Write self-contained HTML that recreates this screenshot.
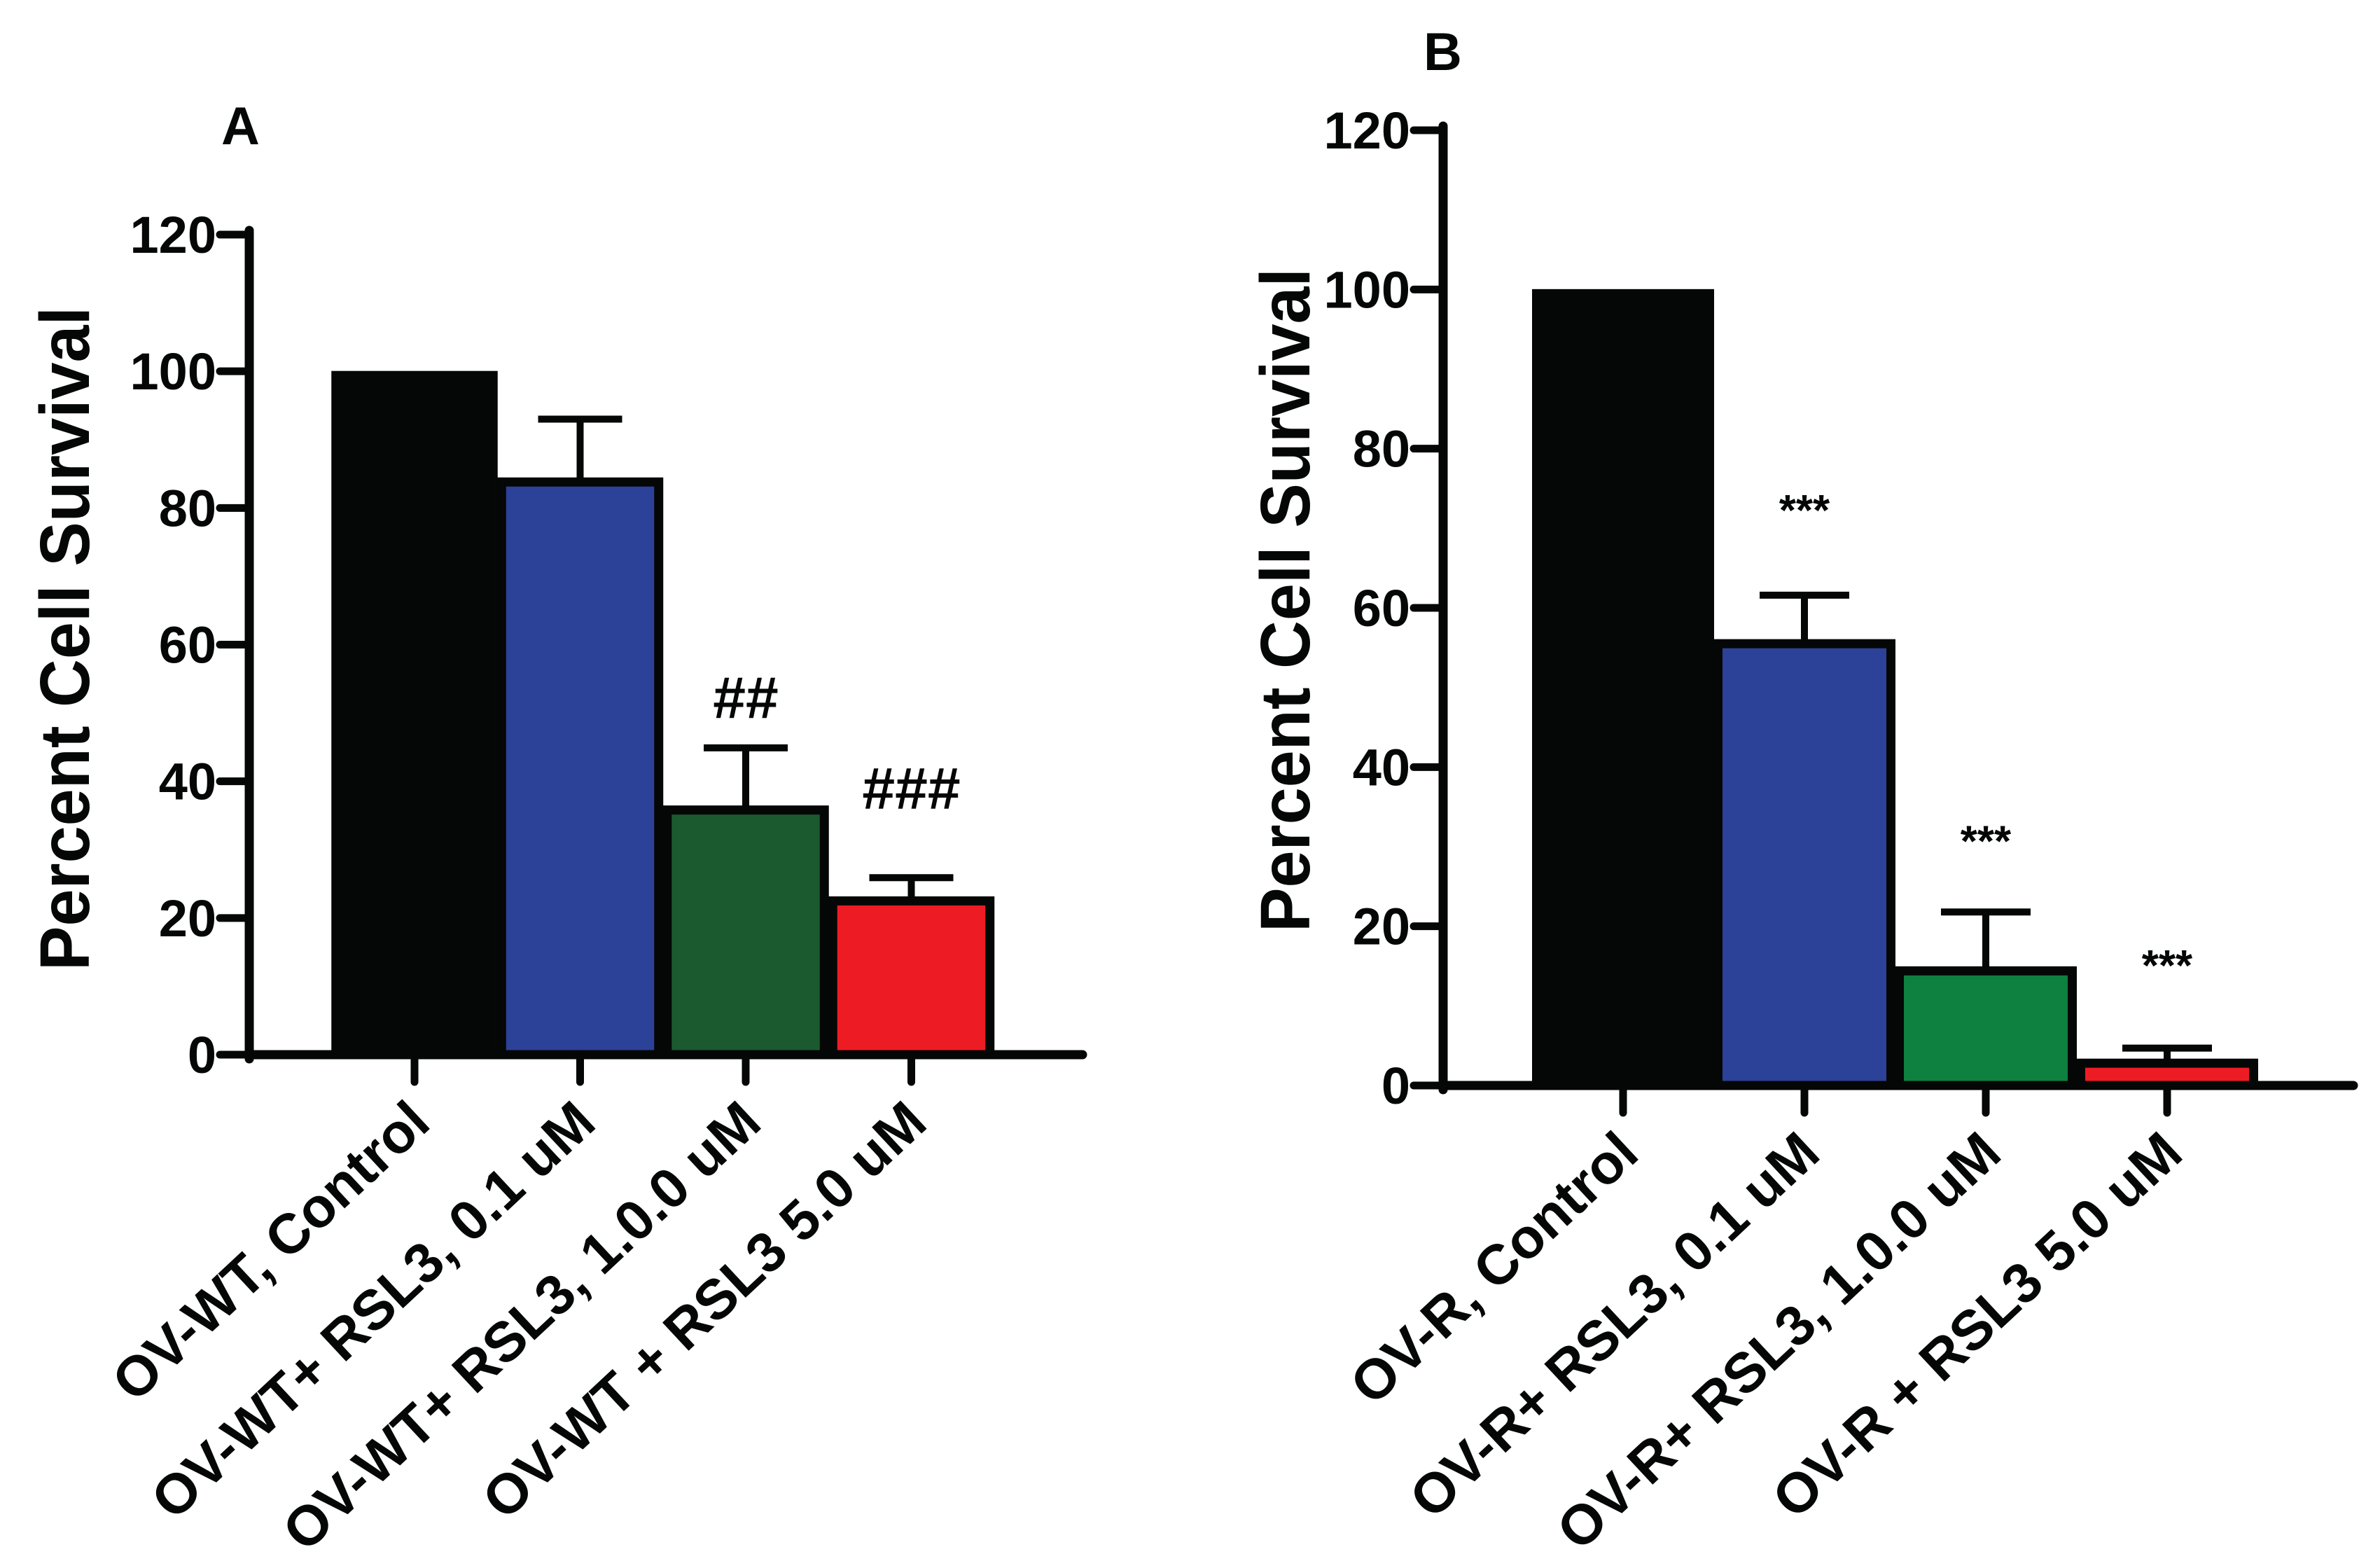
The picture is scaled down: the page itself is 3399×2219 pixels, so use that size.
<!DOCTYPE html>
<html><head><meta charset="utf-8"><style>
html,body{margin:0;padding:0;background:#fff;}
svg{display:block;font-family:"Liberation Sans",Arial,sans-serif;font-weight:bold;}
</style></head><body>
<svg id="chart" width="3399" height="2219" viewBox="0 0 3399 2219" xmlns="http://www.w3.org/2000/svg"></svg>
<script>
// Panel A data
const catsA = ["OV-WT, Control","OV-WT+ RSL3, 0.1 uM","OV-WT+ RSL3, 1.0.0 uM","OV-WT + RSL3 5.0 uM"];
const valsA = [100, 83.8, 35.8, 22.5];
const errA = [null, 93.0, 44.9, 25.9];
const annotA = ["", "", "##", "###"];
const annotYA = [0, 49.3, 49.3, 36.0];
// Panel B data
const catsB = ["OV-R, Control","OV-R+ RSL3, 0.1 uM","OV-R+ RSL3, 1.0.0 uM","OV-R + RSL3 5.0 uM"];
const valsB = [100, 55.5, 14.4, 2.8];
const errB = [null, 61.6, 21.8, 4.7];
const annotB = ["", "***", "***", "***"];
const annotYB = [0, 70.4, 28.8, 13.2];
const ticksY = [0, 20, 40, 60, 80, 100, 120];

const NS = "http://www.w3.org/2000/svg";
const svg = document.getElementById('chart');
function mk(tag, attrs, parent, text){
  const e = document.createElementNS(NS, tag);
  for (const k in attrs) e.setAttribute(k, attrs[k]);
  if (text !== undefined) e.textContent = text;
  (parent || svg).appendChild(e);
  return e;
}

function panel(cfg){
  const g = mk('g', {});
  
  
  const y = v => cfg.y0 - v * (cfg.y0 - cfg.y120) / 120;
  const x = i => cfg.x0 + i * cfg.step;
  const half = cfg.step / 2;
  cfg.vals.forEach((v, i) => {
    const top = i === 0 ? y(v) + 6 : y(v);
    const r = mk('rect', {x: x(i) - half + 6, y: top, width: cfg.step - 12, height: cfg.y0 - top,
      fill: cfg.colors[i], stroke: '#050706', 'stroke-width': 13}, g);
    
    
  });
  cfg.errs.forEach((e, i) => {
    if (e === null) return;
    const p = mk('path', {d: `M${x(i)} ${y(cfg.vals[i]) - 6} V${y(e)} M${x(i) - cfg.cap / 2} ${y(e)} H${x(i) + cfg.cap / 2}`,
      stroke: '#050706', 'stroke-width': 10, fill: 'none'}, g);
    
    
  });
  cfg.annot.forEach((a, i) => {
    if (!a) return;
    const t = mk('text', {x: x(i), y: y(cfg.annotY[i]), 'text-anchor': 'middle', 'font-size': cfg.annotSize, fill: '#050706'}, g, a);
    
    
  });
  const ya = mk('line', {x1: cfg.ax, y1: cfg.y120 - 6, x2: cfg.ax, y2: cfg.y0 + 6, stroke: '#050706', 'stroke-width': 13, 'stroke-linecap': 'round'}, g);
  
  
  const xa = mk('line', {x1: cfg.ax, y1: cfg.y0, x2: cfg.xEnd, y2: cfg.y0, stroke: '#050706', 'stroke-width': 13, 'stroke-linecap': 'round'}, g);
  
  
  ticksY.forEach(v => {
    const tl = mk('line', {x1: cfg.ax - 42, y1: y(v), x2: cfg.ax, y2: y(v), stroke: '#050706', 'stroke-width': 11, 'stroke-linecap': 'round'}, g);
    
    
    const tt = mk('text', {x: cfg.ax - 47, y: y(v) + 26, 'text-anchor': 'end', 'font-size': 74, fill: '#050706'}, g, String(v));
    
    
  });
  cfg.cats.forEach((c, i) => {
    const tl = mk('line', {x1: x(i), y1: cfg.y0, x2: x(i), y2: cfg.y0 + 39, stroke: '#050706', 'stroke-width': 11, 'stroke-linecap': 'round'}, g);
    
    
    const ax = x(i) + 26, ay = cfg.y0 + 102;
    const t = mk('text', {x: 0, y: 0, 'text-anchor': 'end', 'font-size': 80, fill: '#050706',
      transform: `translate(${ax},${ay}) rotate(-43)`}, g, c);
    
    
  });
  const yt = mk('text', {x: 0, y: 0, 'text-anchor': 'middle', 'font-size': 100, fill: '#050706',
    textLength: 948, lengthAdjust: 'spacingAndGlyphs',
    transform: `translate(${cfg.titleX},${cfg.titleY}) rotate(-90)`}, g, 'Percent Cell Survival');
  
  
  const pl = mk('text', {x: cfg.letterX, y: cfg.letterY, 'font-size': 76, fill: '#050706'}, g, cfg.letter);
  
  
}

panel({name: 'panel-a', cats: catsA, vals: valsA, errs: errA, annot: annotA, annotY: annotYA, annotSize: 84,
  colors: ['#050706', '#2c4198', '#1a5a2e', '#ed1c24'],
  ax: 356, y0: 1506, y120: 335, x0: 592, step: 236.5, xEnd: 1546, cap: 120,
  titleX: 127, titleY: 912, letter: 'A', letterX: 316, letterY: 206});
panel({name: 'panel-b', cats: catsB, vals: valsB, errs: errB, annot: annotB, annotY: annotYB, annotSize: 62,
  colors: ['#050706', '#2c4198', '#0e8140', '#ed1c24'],
  ax: 2061, y0: 1550, y120: 186, x0: 2318, step: 259, xEnd: 3361, cap: 128,
  titleX: 1870, titleY: 857, letter: 'B', letterX: 2033, letterY: 100});
</script>
</body></html>
